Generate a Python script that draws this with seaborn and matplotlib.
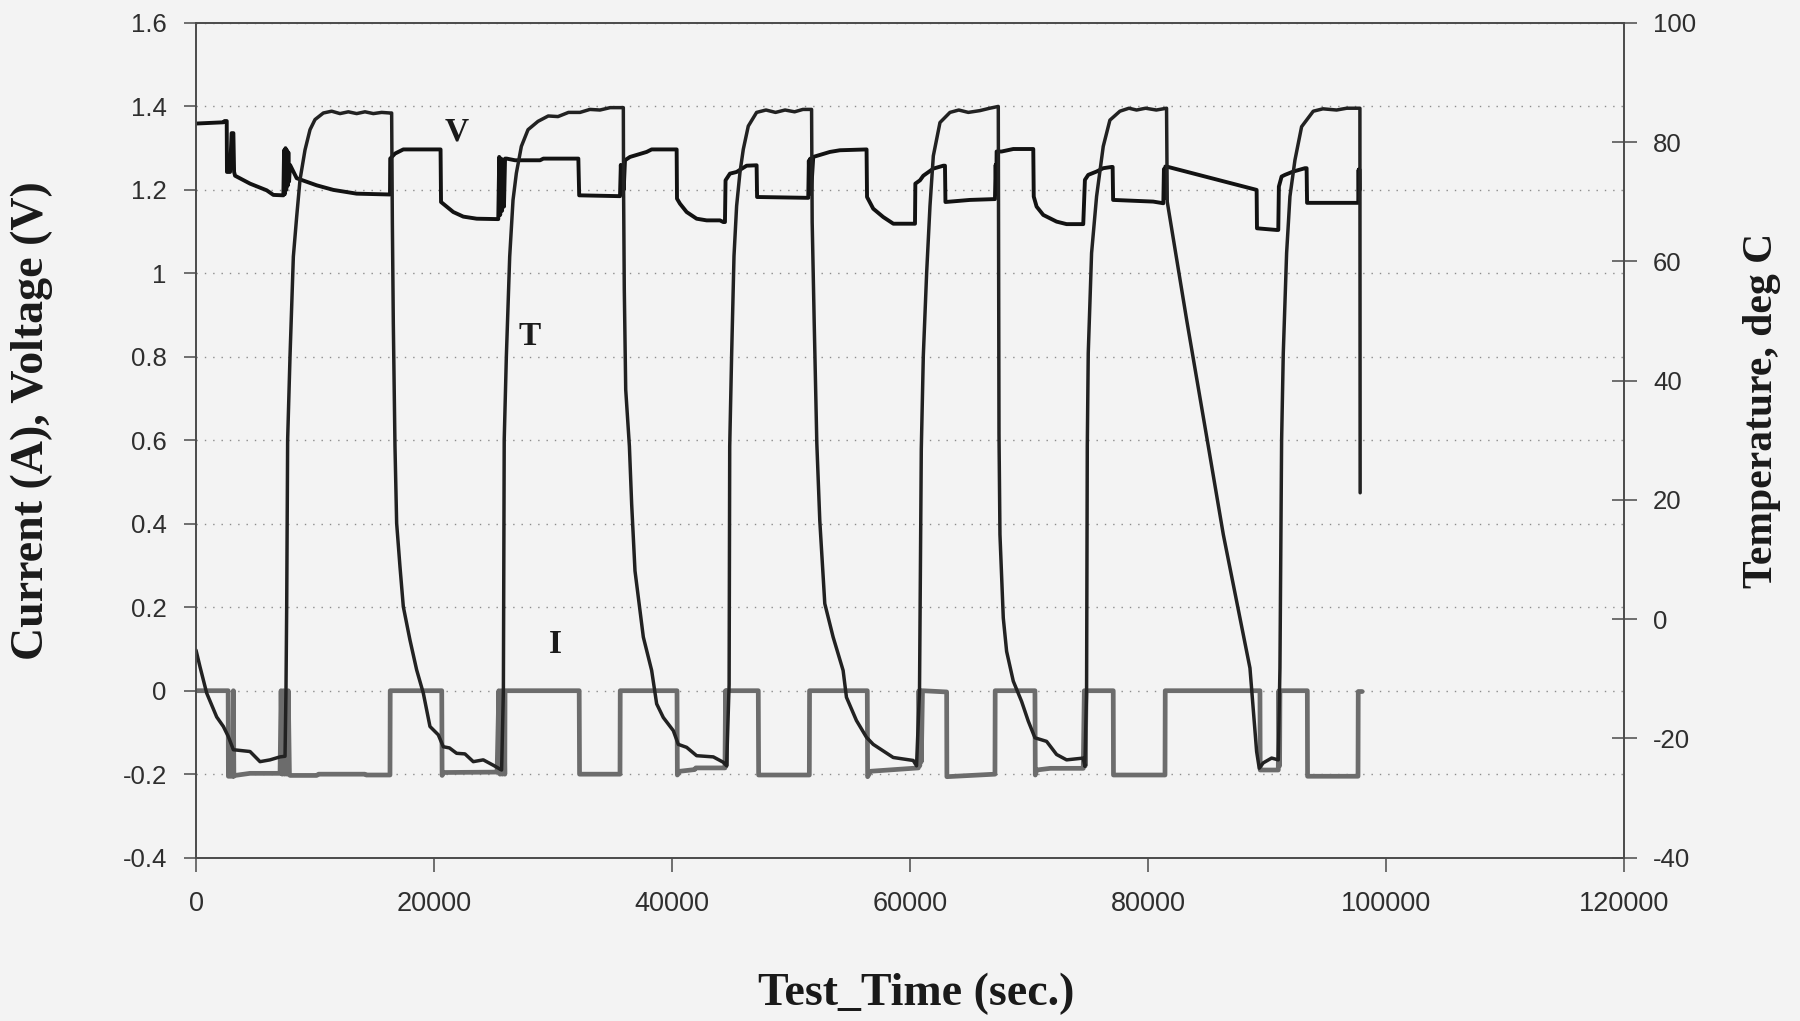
import matplotlib
matplotlib.use("Agg")
import matplotlib.pyplot as plt
import seaborn as sns

# ---------------- data ----------------
# Voltage (V), left axis
v_time = [0, 2300, 2400, 2580, 2600, 2860, 2990, 3140, 3200, 3280, 4540, 5940, 6500, 7340,
          7400, 7460, 7520, 7580, 7640, 7700, 7760, 7820, 7900,
          8460, 10140, 11540, 13500, 16300, 16320, 16720, 17420, 20550, 20590, 21620, 22460,
          23590, 25270,
          25400, 25480, 25560, 25640, 25720, 25800, 25880, 25970,
          26110, 26810, 28910, 29190, 32130, 32200, 35630,
          35700, 35780, 35860, 35940, 36050,
          36470, 37870, 38290, 40390, 40420, 40670, 41230, 42070, 42910, 44030, 44310, 44450,
          44500, 44870, 45430, 46270, 47110, 47150, 51450,
          51500, 51560, 51620, 51700,
          51870, 53270, 54110, 56350, 56390, 56910, 57750, 58600, 60280, 60420, 60450, 60840,
          61120, 61960, 62800, 62940, 62980, 65040, 67140,
          67200, 67250, 67280,
          67700, 68680, 70360, 70400, 70640, 71200, 72320, 73160, 74560, 74700, 74980, 75680,
          76240, 76940, 77030, 77070, 80440, 81290,
          81340, 81400, 81460,
          81560, 89130, 89160, 90810, 90950, 91000, 91230, 91510, 92210, 93190, 93330, 93370,
          97670, 97700, 97730, 97760, 97800]
v_volt = [1.359, 1.362, 1.365, 1.365, 1.243, 1.243, 1.336, 1.336, 1.243, 1.234, 1.215, 1.199, 1.188, 1.187,
          1.295, 1.190, 1.300, 1.200, 1.295, 1.210, 1.290, 1.220, 1.260,
          1.228, 1.211, 1.200, 1.191, 1.189, 1.275, 1.287, 1.297, 1.297, 1.171, 1.147, 1.136,
          1.131, 1.130,
          1.130, 1.279, 1.140, 1.275, 1.150, 1.270, 1.160, 1.275,
          1.275, 1.271, 1.271, 1.275, 1.275, 1.187, 1.185,
          1.260, 1.190, 1.255, 1.200, 1.271,
          1.279, 1.291, 1.297, 1.297, 1.179, 1.167, 1.147, 1.131, 1.127, 1.127, 1.123, 1.123,
          1.223, 1.239, 1.243, 1.258, 1.259, 1.183, 1.181,
          1.270, 1.190, 1.275, 1.200,
          1.279, 1.291, 1.295, 1.297, 1.183, 1.155, 1.135, 1.119, 1.119, 1.119, 1.215, 1.223,
          1.234, 1.251, 1.258, 1.258, 1.171, 1.176, 1.178,
          1.260, 1.190, 1.292,
          1.292, 1.298, 1.298, 1.184, 1.160, 1.140, 1.124, 1.118, 1.118, 1.224, 1.236, 1.244,
          1.252, 1.255, 1.255, 1.176, 1.172, 1.168,
          1.250, 1.180, 1.256,
          1.256, 1.200, 1.108, 1.104, 1.104, 1.208, 1.232, 1.236, 1.244, 1.252, 1.252, 1.169,
          1.169, 1.248, 1.180, 1.250, 1.200]

# Current (A), left axis
i_time = [0, 2700, 2720, 3100, 3140, 3180, 3280, 4540, 7060,
          7150, 7250, 7350, 7450, 7550, 7650, 7750, 7850,
          7900, 10140, 10300, 14200, 14300, 16300, 16320, 20650, 20680, 20800, 25300,
          25450, 25550, 25650, 25750, 25850, 25950, 25970,
          32200, 32230, 35630, 35650, 40420, 40450, 40670, 41900, 42000, 44450,
          44500, 44550, 44600,
          47250, 47280, 51540, 51560, 56410, 56440, 56700, 60700,
          60750, 60820, 60900, 60950, 61050,
          63080, 63100, 67140, 67160, 70500, 70530, 70650, 71800, 74560,
          74650, 74720, 74800,
          77080, 77100, 81430, 81450, 89410, 89430, 90950, 91000, 91060, 91090,
          93390, 93410, 97650, 97670, 98000]
i_amp = [0.0, 0.0, -0.205, -0.205, 0.0, -0.205, -0.203, -0.198, -0.198,
         0.0, -0.200, 0.0, -0.200, 0.0, -0.200, 0.0, -0.200,
         -0.203, -0.203, -0.200, -0.200, -0.202, -0.202, 0.0, 0.0, -0.203, -0.196, -0.195,
         0.0, -0.200, 0.0, -0.200, 0.0, -0.200, 0.0,
         0.0, -0.200, -0.200, 0.0, 0.0, -0.202, -0.193, -0.189, -0.185, -0.185,
         0.0, -0.180, 0.0,
         0.0, -0.202, -0.202, 0.0, 0.0, -0.206, -0.193, -0.185,
         0.0, -0.180, 0.0, -0.170, 0.0,
         -0.003, -0.206, -0.200, 0.0, 0.0, -0.202, -0.190, -0.186, -0.186,
         0.0, -0.180, 0.0,
         0.0, -0.202, -0.202, 0.0, 0.0, -0.190, -0.190, 0.0, -0.180, 0.0,
         0.0, -0.205, -0.205, -0.002, -0.002]

# Temperature (deg C), right axis
t_time = [0, 336, 896, 1737, 2297, 2717, 3137, 4538, 5378, 6218, 7058, 7480, 7560, 7620, 7660,
          7700, 7899, 8179, 8459, 8739, 9159, 9580, 10000, 10700, 11400, 12100, 12800, 13500,
          14200, 14900, 15600, 16300, 16440,
          16500, 16580, 16720, 16860, 17140, 17420, 17980, 18540, 19100, 19660, 20360, 20780,
          21300, 21900, 22600, 23300, 24140, 24980, 25680, 25830, 25900, 26080, 26360, 26640,
          26920, 27340, 27900, 28740, 29600, 30420, 31300, 32270, 33100, 33950, 34800, 35770,
          35910, 35930, 35990, 36110, 36420, 36610,
          36890, 37590, 38290, 38710, 39270, 40110, 40530, 41230, 42070, 43470, 44310, 44590,
          44800, 44850, 45010, 45210, 45430, 45710, 45990, 46410, 47110, 47900, 48700, 49500,
          50300, 51000, 51580, 51730,
          51780, 51950, 52170, 52420, 52840, 53540, 54380, 54660, 55500, 56340, 56910, 58590,
          60270, 60550, 60800, 60950, 61120, 61400, 61680, 61960, 62520, 63360, 64100, 64900,
          65880, 66700, 67420,
          67450, 67480, 67560, 67840, 68120, 68680, 69380, 69940, 70500, 71480, 72320, 73160,
          74560, 74700, 74840, 74900, 74980, 75260, 75680, 76240, 76800, 77640, 78400, 79040,
          79800, 80700, 81560,
          81620, 83250, 85070, 86330, 87450, 88570, 89130, 89350, 89690, 90390, 90950, 91090,
          91230, 91370, 91650, 91930, 92350, 92910, 93890, 94700, 95850, 96700, 97810, 97830]
t_degc = [-5.2, -8.0, -12.4, -16.4, -18.0, -19.7, -21.9, -22.2, -23.9, -23.6, -23.1, -23.0, -11.9, 2.1, 16.1,
          30.1, 44.1, 60.8, 67.5, 73.7, 78.7, 82.1, 83.8, 84.9, 85.2, 84.8, 85.1, 84.8,
          85.1, 84.8, 85.0, 84.9, 84.9,
          66.4, 49.6, 29.0, 16.1, 8.8, 2.1, -3.5, -8.5, -12.4, -18.0, -19.4, -21.4,
          -21.6, -22.5, -22.6, -23.9, -23.6, -24.5, -25.3, -12.0, 30.1, 44.1, 60.8, 70.3,
          74.8, 79.3, 82.1, 83.5, 84.4, 84.3, 85.0, 85.0, 85.5, 85.4, 85.8, 85.8,
          85.8, 72.1, 55.4, 38.5, 29.0, 19.3,
          8.1, -3.0, -8.6, -14.2, -16.5, -18.7, -21.0, -21.5, -22.9, -23.1, -24.0, -24.6,
          -11.0, 29.0, 44.2, 60.9, 69.3, 74.9, 78.8, 82.7, 85.0, 85.4, 85.0, 85.4,
          85.1, 85.5, 85.5, 85.5,
          66.6, 49.8, 29.5, 16.5, 2.6, -3.0, -8.6, -13.1, -17.0, -19.8, -21.0, -23.2,
          -23.7, -24.6, -12.0, 28.5, 44.2, 58.1, 69.3, 77.7, 83.3, 85.0, 85.4, 85.0,
          85.3, 85.7, 86.0,
          60.0, 31.0, 14.2, 0.2, -5.4, -10.4, -13.8, -17.1, -19.9, -20.5, -22.7, -23.6,
          -23.3, -24.7, -12.0, 29.0, 44.6, 61.4, 70.9, 79.3, 83.7, 85.2, 85.7, 85.4,
          85.7, 85.4, 85.7,
          70.0, 50.2, 29.0, 14.2, 3.0, -8.2, -22.2, -25.0, -24.1, -23.3, -23.6, -8.2,
          30.0, 44.6, 61.4, 70.9, 77.0, 82.6, 85.2, 85.6, 85.4, 85.7, 85.7, 21.2]

x_ticks = [0, 20000, 40000, 60000, 80000, 100000, 120000]
x_tick_labels = ["0", "20000", "40000", "60000", "80000", "100000", "120000"]
left_ticks = [-0.4, -0.2, 0.0, 0.2, 0.4, 0.6, 0.8, 1.0, 1.2, 1.4, 1.6]
left_tick_labels = ["-0.4", "-0.2", "0", "0.2", "0.4", "0.6", "0.8", "1", "1.2", "1.4", "1.6"]
right_ticks = [-40, -20, 0, 20, 40, 60, 80, 100]
right_tick_labels = ["-40", "-20", "0", "20", "40", "60", "80", "100"]

x_title = "Test_Time (sec.)"
left_title = "Current (A), Voltage (V)"
right_title = "Temperature, deg C"
series_tags = ["V", "T", "I"]

# ---------------- styling ----------------
sns.set_theme(style="white")
plt.rcParams['font.family'] = ['Liberation Sans', 'DejaVu Sans']

bg = "#f3f3f3"
axis_col = "#4a4a4a"
serif = ['Liberation Serif', 'DejaVu Serif']

fig = plt.figure(figsize=(18, 10.21), dpi=100, facecolor=bg)
ax = fig.add_axes([0.1089, 0.1600, 0.7933, 0.8175])
ax.set_facecolor(bg)

sns.lineplot(x=i_time, y=i_amp, ax=ax, sort=False, estimator=None,
             color="#6c6c6c", linewidth=3.4)
sns.lineplot(x=v_time, y=v_volt, ax=ax, sort=False, estimator=None,
             color="#121212", linewidth=2.8)

ax.set_xlim(0, 120000)
ax.set_ylim(-0.4, 1.6)
ax.set_xticks(x_ticks)
ax.set_xticklabels(x_tick_labels)
ax.set_yticks(left_ticks)
ax.set_yticklabels(left_tick_labels)
ax.yaxis.grid(True, linestyle=(0, (1, 5)), color="#8c8c8c", linewidth=1.0)
ax.xaxis.grid(False)
ax.set_axisbelow(True)

ax2 = ax.twinx()
sns.lineplot(x=t_time, y=t_degc, ax=ax2, sort=False, estimator=None,
             color="#222222", linewidth=2.5)
ax2.set_ylim(-40, 100)
ax2.set_yticks(right_ticks)
ax2.set_yticklabels(right_tick_labels)
ax2.grid(False)

for a in (ax, ax2):
    for s in a.spines.values():
        s.set_color(axis_col)
        s.set_linewidth(1.2)
        s.set_visible(True)

ax.tick_params(axis='y', direction='out', length=9, width=1.1, pad=12,
               labelsize=18.5, colors=axis_col, labelcolor="#2e2e2e", left=True)
ax.tick_params(axis='x', direction='out', length=10, width=1.1, pad=14,
               labelsize=19.5, colors=axis_col, labelcolor="#2e2e2e", bottom=True)
ax2.tick_params(axis='y', direction='inout', length=18, width=1.1, pad=12,
                labelsize=18.5, colors=axis_col, labelcolor="#2e2e2e", right=True)

ax.set_xlabel(x_title, family=serif, weight='bold', size=33, color="#1a1a1a", va='center')
ax.xaxis.set_label_coords(0.504, -0.1635)
ax.set_ylabel(left_title, family=serif, weight='bold', size=33, color="#1a1a1a",
              va='center', ha='center')
ax.yaxis.set_label_coords(-0.1148, 0.523)
ax2.set_ylabel(right_title, family=serif, weight='bold', size=30, color="#1a1a1a",
               va='center', ha='center', rotation=90)
ax2.yaxis.set_label_coords(1.0966, 0.536)

tag_pos = [(21930, 1.339), (28070, 0.848), (30170, 0.110)]
for tag, (tx, ty) in zip(series_tags, tag_pos):
    ax.text(tx, ty, tag, family=serif, weight='bold', size=24, color="#1a1a1a",
            ha='center', va='center')

fig.savefig("out.png", dpi=100, facecolor=bg)
